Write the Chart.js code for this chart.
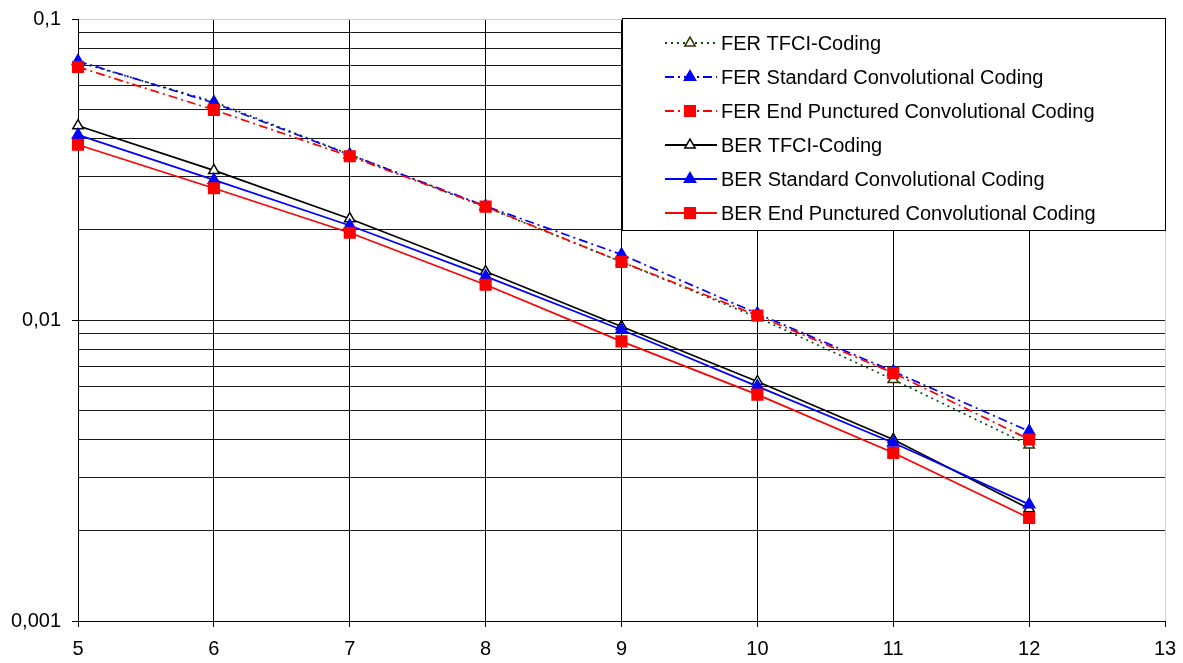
<!DOCTYPE html>
<html>
<head>
<meta charset="utf-8">
<script src="https://cdn.jsdelivr.net/npm/chart.js@4/dist/chart.umd.min.js"></script>
<style>
  body { margin: 0; background: #fff; }
  #wrap { position: relative; width: 1183px; height: 663px; }
</style>
</head>
<body>
<div id="wrap"><canvas id="chart"></canvas></div>
<script>
// x values (Eb/N0 steps)
const xValues = [5, 6, 7, 8, 9, 10, 11, 12];

const ferTfci     = [0.0720, 0.0531, 0.0355, 0.0237, 0.0156, 0.0102, 0.00634, 0.00384];
const ferStandard = [0.0725, 0.0526, 0.0354, 0.0239, 0.0165, 0.0105, 0.00675, 0.00427];
const ferEndPunct = [0.0693, 0.0499, 0.0350, 0.0238, 0.0156, 0.01035, 0.00667, 0.00401];
const berTfci     = [0.0442, 0.0314, 0.0217, 0.01449, 0.00952, 0.00625, 0.00401, 0.00236];
const berStandard = [0.0412, 0.0292, 0.0206, 0.01396, 0.00928, 0.00602, 0.00391, 0.00244];
const berEndPunct = [0.0382, 0.0274, 0.0195, 0.0131, 0.00849, 0.00565, 0.00362, 0.00220];

const seriesNames = [
    'FER TFCI-Coding',
    'FER Standard Convolutional Coding',
    'FER End Punctured Convolutional Coding',
    'BER TFCI-Coding',
    'BER Standard Convolutional Coding',
    'BER End Punctured Convolutional Coding'
];

const yMajorTicks = [0.001, 0.01, 0.1];
const yTickLabels = ['0,001', '0,01', '0,1'];
const xMin = 5, xMax = 13;

function toPoints(vals) {
    return vals.map((v, i) => ({ x: xValues[i], y: v }));
}

function majorIndex(v) {
    return yMajorTicks.findIndex(m => Math.abs(Math.log10(v) - Math.log10(m)) < 1e-6);
}

const styles = [
    { color: '#0b4d0b', dash: [2, 4], style: 'triangle', bg: '#ffffff', border: '#333300', radius: 6 },
    { color: '#0000ff', dash: [9, 4, 2, 4], style: 'triangle', bg: '#0000ff', border: '#0000ff', radius: 6.5 },
    { color: '#ff0000', dash: [9, 4, 2, 4], style: 'rect', bg: '#ff0000', border: '#ff0000', radius: 7.5 },
    { color: '#000000', dash: [], style: 'triangle', bg: '#ffffff', border: '#000000', radius: 6 },
    { color: '#0000ff', dash: [], style: 'triangle', bg: '#0000ff', border: '#0000ff', radius: 6.5 },
    { color: '#ff0000', dash: [], style: 'rect', bg: '#ff0000', border: '#ff0000', radius: 7.5 }
];

const seriesData = [ferTfci, ferStandard, ferEndPunct, berTfci, berStandard, berEndPunct];

const datasets = seriesData.map((vals, i) => ({
    label: seriesNames[i],
    data: toPoints(vals),
    borderColor: styles[i].color,
    borderWidth: 1.7,
    borderDash: styles[i].dash,
    pointStyle: styles[i].style,
    pointRadius: styles[i].radius,
    pointBackgroundColor: styles[i].bg,
    pointBorderColor: styles[i].border,
    pointBorderWidth: 1.5,
    tension: 0,
    clip: false,
    order: 10 - i
}));

function drawMarker(ctx, s, x, y) {
    ctx.save();
    ctx.fillStyle = s.bg;
    ctx.strokeStyle = s.border;
    ctx.lineWidth = 1.5;
    ctx.setLineDash([]);
    ctx.beginPath();
    if (s.style === 'rect') {
        const h = s.radius * Math.SQRT1_2;
        ctx.rect(x - h, y - h, h * 2, h * 2);
    } else {
        const r = s.radius;
        ctx.moveTo(x, y - r);
        ctx.lineTo(x + r * Math.sin(Math.PI / 3), y + r / 2);
        ctx.lineTo(x - r * Math.sin(Math.PI / 3), y + r / 2);
        ctx.closePath();
    }
    ctx.fill();
    ctx.stroke();
    ctx.restore();
}

// legend drawn inside the plot, top right
const boxLegend = {
    id: 'boxLegend',
    afterDatasetsDraw(chart) {
        const ctx = chart.ctx;
        const area = chart.chartArea;
        const right = area.right + 0.5;
        const left = 622.5;
        const top = 18.5;
        const bottom = 230.5;
        ctx.save();
        ctx.fillStyle = '#fff';
        ctx.fillRect(left, top, right - left, bottom - top);
        ctx.strokeStyle = '#000';
        ctx.lineWidth = 1;
        ctx.strokeRect(left, top, right - left, bottom - top);
        ctx.font = '20px "Liberation Sans", Arial, sans-serif';
        ctx.textBaseline = 'middle';
        ctx.fillStyle = '#000';
        seriesNames.forEach((name, i) => {
            const y = 43 + i * 34;
            const s = styles[i];
            ctx.save();
            ctx.strokeStyle = s.color;
            ctx.lineWidth = 1.8;
            ctx.setLineDash(s.dash);
            ctx.beginPath();
            ctx.moveTo(665, y);
            ctx.lineTo(717, y);
            ctx.stroke();
            ctx.restore();
            drawMarker(ctx, s, 690, y);
            ctx.fillStyle = '#000';
            ctx.fillText(name, 721, y + 1);
        });
        ctx.restore();
    }
};

const tickFont = { family: '"Liberation Sans", Arial, sans-serif', size: 20 };

new Chart(document.getElementById('chart'), {
    type: 'line',
    data: { datasets },
    options: {
        responsive: true,
        maintainAspectRatio: false,
        animation: false,
        layout: { padding: { top: 19, right: 18, left: 0, bottom: 0 } },
        plugins: {
            legend: { display: false },
            tooltip: { enabled: false }
        },
        scales: {
            x: {
                type: 'linear',
                min: xMin,
                max: xMax,
                ticks: { stepSize: 1, font: tickFont, color: '#000', padding: 10 },
                grid: {
                    color: c => (c.tick && c.tick.value === xMax ? '#d0d0d0' : '#000'),
                    tickColor: '#000',
                    tickLength: 6,
                    lineWidth: 1
                },
                border: { display: true, color: '#000' },
                afterFit(scale) {
                    scale.height = 42;
                    scale.paddingLeft = 0;
                    scale.paddingRight = 0;
                }
            },
            y: {
                type: 'logarithmic',
                min: yMajorTicks[0],
                max: yMajorTicks[yMajorTicks.length - 1],
                afterBuildTicks(scale) {
                    const ticks = [];
                    for (let e = -3; e < -1; e++) {
                        for (let m = 1; m <= 9; m++) {
                            ticks.push({ value: m * Math.pow(10, e) });
                        }
                    }
                    ticks.push({ value: yMajorTicks[yMajorTicks.length - 1] });
                    scale.ticks = ticks;
                },
                ticks: {
                    autoSkip: false,
                    font: tickFont,
                    color: '#000',
                    padding: 11,
                    callback(value) {
                        const k = majorIndex(value);
                        return k >= 0 ? yTickLabels[k] : '';
                    }
                },
                grid: {
                    color: c => (c.tick && majorIndex(c.tick.value) === 2 ? '#d0d0d0' : '#1a1a1a'),
                    tickColor: c => (c.tick && majorIndex(c.tick.value) >= 0 ? '#000' : 'rgba(0,0,0,0)'),
                    tickLength: 6,
                    lineWidth: 1
                },
                border: { display: true, color: '#000' },
                afterFit(scale) {
                    scale.width = 78;
                    scale.paddingTop = 0;
                    scale.paddingBottom = 0;
                }
            }
        }
    },
    plugins: [boxLegend]
});
</script>
</body>
</html>
